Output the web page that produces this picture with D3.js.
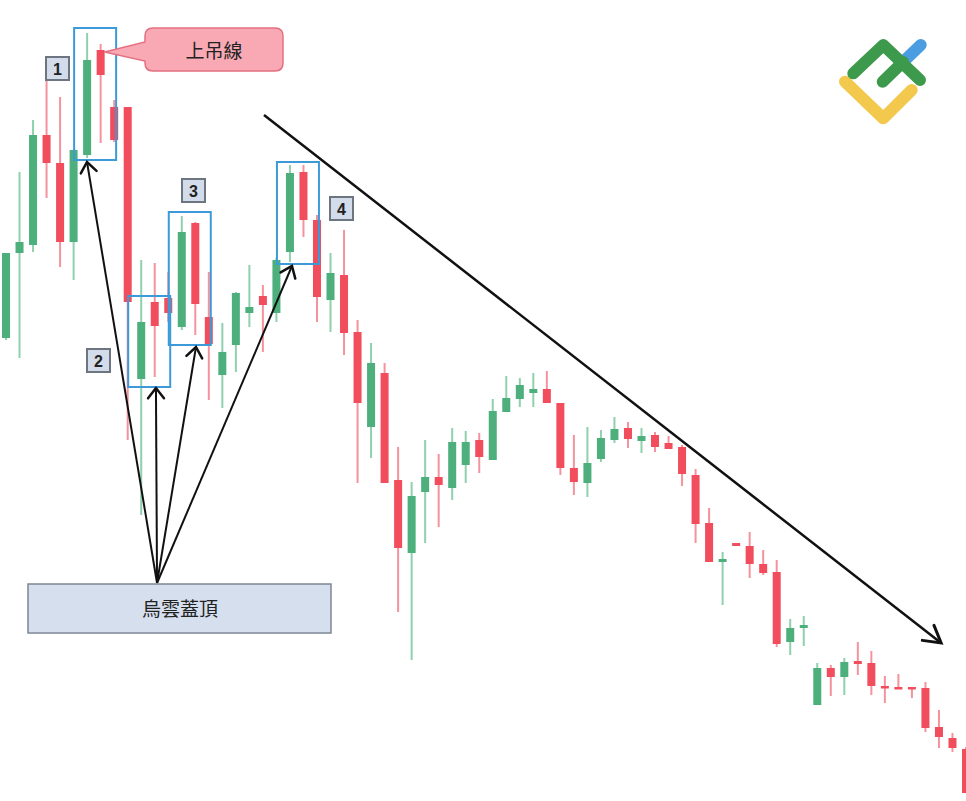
<!DOCTYPE html>
<html>
<head>
<meta charset="utf-8">
<script src="https://cdn.jsdelivr.net/npm/d3@7"></script>
<style>
html,body{margin:0;padding:0;background:#fff;}
svg{display:block;}
</style>
</head>
<body>
<div id="chart"></div>
<script>
// ---- data (arbitrary price units) ----
const opens  = [115.5,136.75,138.75,166.25,159.25,139.5,161.25,187.5,173.25,173.25,105.25,124.5,125.5,118.25,144.25,120.75,106.25,113.75,121.75,126,121.75,137,157,145,125,131.25,117,93.25,106.75,80,61.75,77,80.75,78,83.75,90,85,97,100.25,101.75,102.75,99.25,83,79.25,85.25,90,93,89.75,91.25,89.25,88.25,81.25,69.25,59.5,64.25,63.5,59,57,39.5,43,23.75,33,30.75,34.75,34.25,28.5,28.25,28.25,28,18.25,15.5,12.75];
const highs  = [136.75,157,170,183.25,175.75,162.5,191.75,189,175,173.25,135,134.25,132,146,144.5,132,119.25,127,133.75,128.75,135.5,158.75,158.75,146.25,136.75,142.5,120,114.25,109.25,88.25,79.5,90,86.5,93,92.25,91.75,100.25,106,105.5,106.75,107.25,99.25,91.25,93.25,92.5,95.75,94.5,93,92,91,88.75,82.75,73,62,64.25,67,62.5,60,45.25,46,34.25,33.75,35.5,39.5,37.25,31,31.5,28.25,29.5,22.5,16.75,13.25];
const lows   = [115,110.5,137,150.5,133.25,130,160.5,164.25,164.5,90,71.25,105.75,119.5,117.5,116.25,100,98,107,118.25,112,119.5,134.5,140.75,119.5,117,111.25,79.25,85.5,79.25,47,35,64.25,68.25,75,79.25,81.75,85,97,98.25,98.25,99.25,81.25,76.25,75.75,84.5,89.25,88,86.75,87,87.75,78.5,64.25,59.5,48.75,63.5,55.5,56.25,38.25,36.25,38.5,23.75,26,26.25,31.25,26.25,24.25,28,25.5,17,13,12,1.75];
const closes = [136.75,139.5,166.25,159.25,139.5,162.5,185,181.25,165,124.5,119.5,118.5,121.75,142,124,114,112,126.75,123.25,123.75,135,156.75,145,125.75,131.75,116.75,99.25,109.25,79.25,63,76,80.75,78.75,89.5,89.5,85.75,97.25,100.5,103.75,102.75,99.25,83,79.5,84.25,90.5,92.75,90.25,91,88.25,87.75,81.5,69,59.5,60.25,63.5,59,56.75,39,43,43.75,33,30.75,34.5,34,28.5,28,28,27.75,18,15.75,13,1.75];
const categories = d3.range(opens.length).map(i => "D" + (i + 1));
const patternLabels = ["1", "2", "3", "4"];
const boxStarts = [6, 10, 13, 21];
const boxTop = [193, 126, 147, 159.5];
const boxBottom = [160, 103.25, 113.75, 134];
const calloutText = "上吊線";
const patternText = "烏雲蓋頂";

const W = 966, H = 801;
const GREEN = "#4caf7c", RED = "#f14d5c";
const GREEN_W = "#8fd0ad", RED_W = "#f4939d";

const svg = d3.select("#chart").append("svg").attr("width", W).attr("height", H);
svg.append("rect").attr("width", W).attr("height", H).attr("fill", "#fff");

const x = d3.scalePoint().domain(categories).range([6, 966]).padding(0);
const xi = i => x(categories[0]) + i * x.step();
const y = d3.scaleLinear().domain([0, 200]).range([800, 0]);

const candles = categories.map((c, i) => ({c, o: opens[i], h: highs[i], l: lows[i], cl: closes[i]}));

const g = svg.append("g");
g.selectAll("line.wick").data(candles).join("line")
  .attr("class", "wick")
  .attr("x1", d => x(d.c)).attr("x2", d => x(d.c))
  .attr("y1", d => y(d.h)).attr("y2", d => y(d.l))
  .attr("stroke", d => d.cl >= d.o ? GREEN_W : RED_W)
  .attr("stroke-width", 2);
g.selectAll("rect.body").data(candles).join("rect")
  .attr("class", "body")
  .attr("x", d => x(d.c) - 4).attr("width", 8)
  .attr("y", d => y(Math.max(d.o, d.cl)))
  .attr("height", d => Math.max(2.5, Math.abs(y(d.o) - y(d.cl))))
  .attr("fill", d => d.cl >= d.o ? GREEN : RED);

// ---- pattern boxes ----
const ann = svg.append("g");
boxStarts.forEach((s, k) => {
  const x0 = xi(s) - 13, x1 = xi(s) + 29;
  ann.append("rect")
    .attr("x", x0).attr("y", y(boxTop[k]))
    .attr("width", x1 - x0).attr("height", y(boxBottom[k]) - y(boxTop[k]))
    .attr("fill", "none").attr("stroke", "#3d9ad8").attr("stroke-width", 2);
});

// number tags
const tagPos = [[46,57],[87,349],[182,179],[330,197]];
patternLabels.forEach((t, k) => {
  const [tx, ty] = tagPos[k];
  ann.append("rect").attr("x", tx).attr("y", ty).attr("width", 23).attr("height", 23)
    .attr("fill", "#d3dcea").attr("stroke", "#6d7580").attr("stroke-width", 2);
  ann.append("text").attr("x", tx + 11.5).attr("y", ty + 17.5)
    .attr("text-anchor", "middle").attr("font-family", "Liberation Sans, Arial, sans-serif")
    .attr("font-weight", "bold").attr("font-size", 16).attr("fill", "#222").text(t);
});

// arrowhead helper (open chevron)
function arrow(gr, x1, y1, x2, y2, w, len, spread) {
  gr.append("line").attr("x1", x1).attr("y1", y1).attr("x2", x2).attr("y2", y2)
    .attr("stroke", "#111").attr("stroke-width", w);
  const a = Math.atan2(y2 - y1, x2 - x1), sp = spread;
  const p1 = [x2 - len * Math.cos(a - sp), y2 - len * Math.sin(a - sp)];
  const p2 = [x2 - len * Math.cos(a + sp), y2 - len * Math.sin(a + sp)];
  gr.append("path").attr("d", `M${p1}L${x2},${y2}L${p2}`)
    .attr("fill", "none").attr("stroke", "#111").attr("stroke-width", w + 0.5)
    .attr("stroke-linejoin", "miter").attr("stroke-linecap", "round");
}

// trend line
arrow(ann, xi(19.08), y(171.25), xi(69.16), y(39.25), 2.5, 19, Math.PI / 6);

// arrows from label box
const src = [xi(11.17), y(54.25)];
const tips = [[5.99, 159.5], [11.09, 103], [14.05, 113.25], [21.15, 133.5]];
tips.forEach(t => arrow(ann, src[0], src[1], xi(t[0]), y(t[1]), 2, 13, 0.66));

// bottom label box
ann.append("rect").attr("x", 28).attr("y", 584).attr("width", 303).attr("height", 49)
  .attr("fill", "#d5dfee").attr("stroke", "#7d8794").attr("stroke-width", 1.5);
ann.append("text").attr("x", 180).attr("y", 616).attr("text-anchor", "middle")
  .attr("font-family", "Noto Sans CJK TC, sans-serif").attr("font-size", 19)
  .attr("fill", "#222").text(patternText);

// callout
const cx0 = 145, cy0 = 28, cx1 = 283, cy1 = 71, r = 8;
const tipX = xi(7) + 4, tipY = y(187);
const cpath = `M${cx0 + r},${cy0} L${cx1 - r},${cy0} Q${cx1},${cy0} ${cx1},${cy0 + r} L${cx1},${cy1 - r} Q${cx1},${cy1} ${cx1 - r},${cy1} L${cx0 + r},${cy1} Q${cx0},${cy1} ${cx0},${cy1 - r} L${cx0},61 L${tipX},${tipY} L${cx0},42 L${cx0},${cy0 + r} Q${cx0},${cy0} ${cx0 + r},${cy0} Z`;
ann.append("path").attr("d", cpath).attr("fill", "#f8a9b4").attr("stroke", "#e4707f").attr("stroke-width", 1.5);
ann.append("text").attr("x", 214).attr("y", 58).attr("text-anchor", "middle")
  .attr("font-family", "Noto Sans CJK TC, sans-serif").attr("font-size", 19)
  .attr("fill", "#222").text(calloutText);

// logo
const logo = svg.append("g").attr("fill", "none").attr("stroke-linecap", "round").attr("stroke-linejoin", "round").attr("stroke-width", 12);
logo.append("path").attr("d", "M901.7,63.3L920.7,45").attr("stroke", "#4a9de0");
logo.append("path").attr("d", "M845,81.7L883.3,118.3L911.7,90").attr("stroke", "#f2c94c");
logo.append("path").attr("d", "M853.3,73.3L883.3,45L920,80").attr("stroke", "#3d9a4c");
logo.append("path").attr("d", "M882.7,81.7L903,62").attr("stroke", "#3d9a4c");
</script>
</body>
</html>
